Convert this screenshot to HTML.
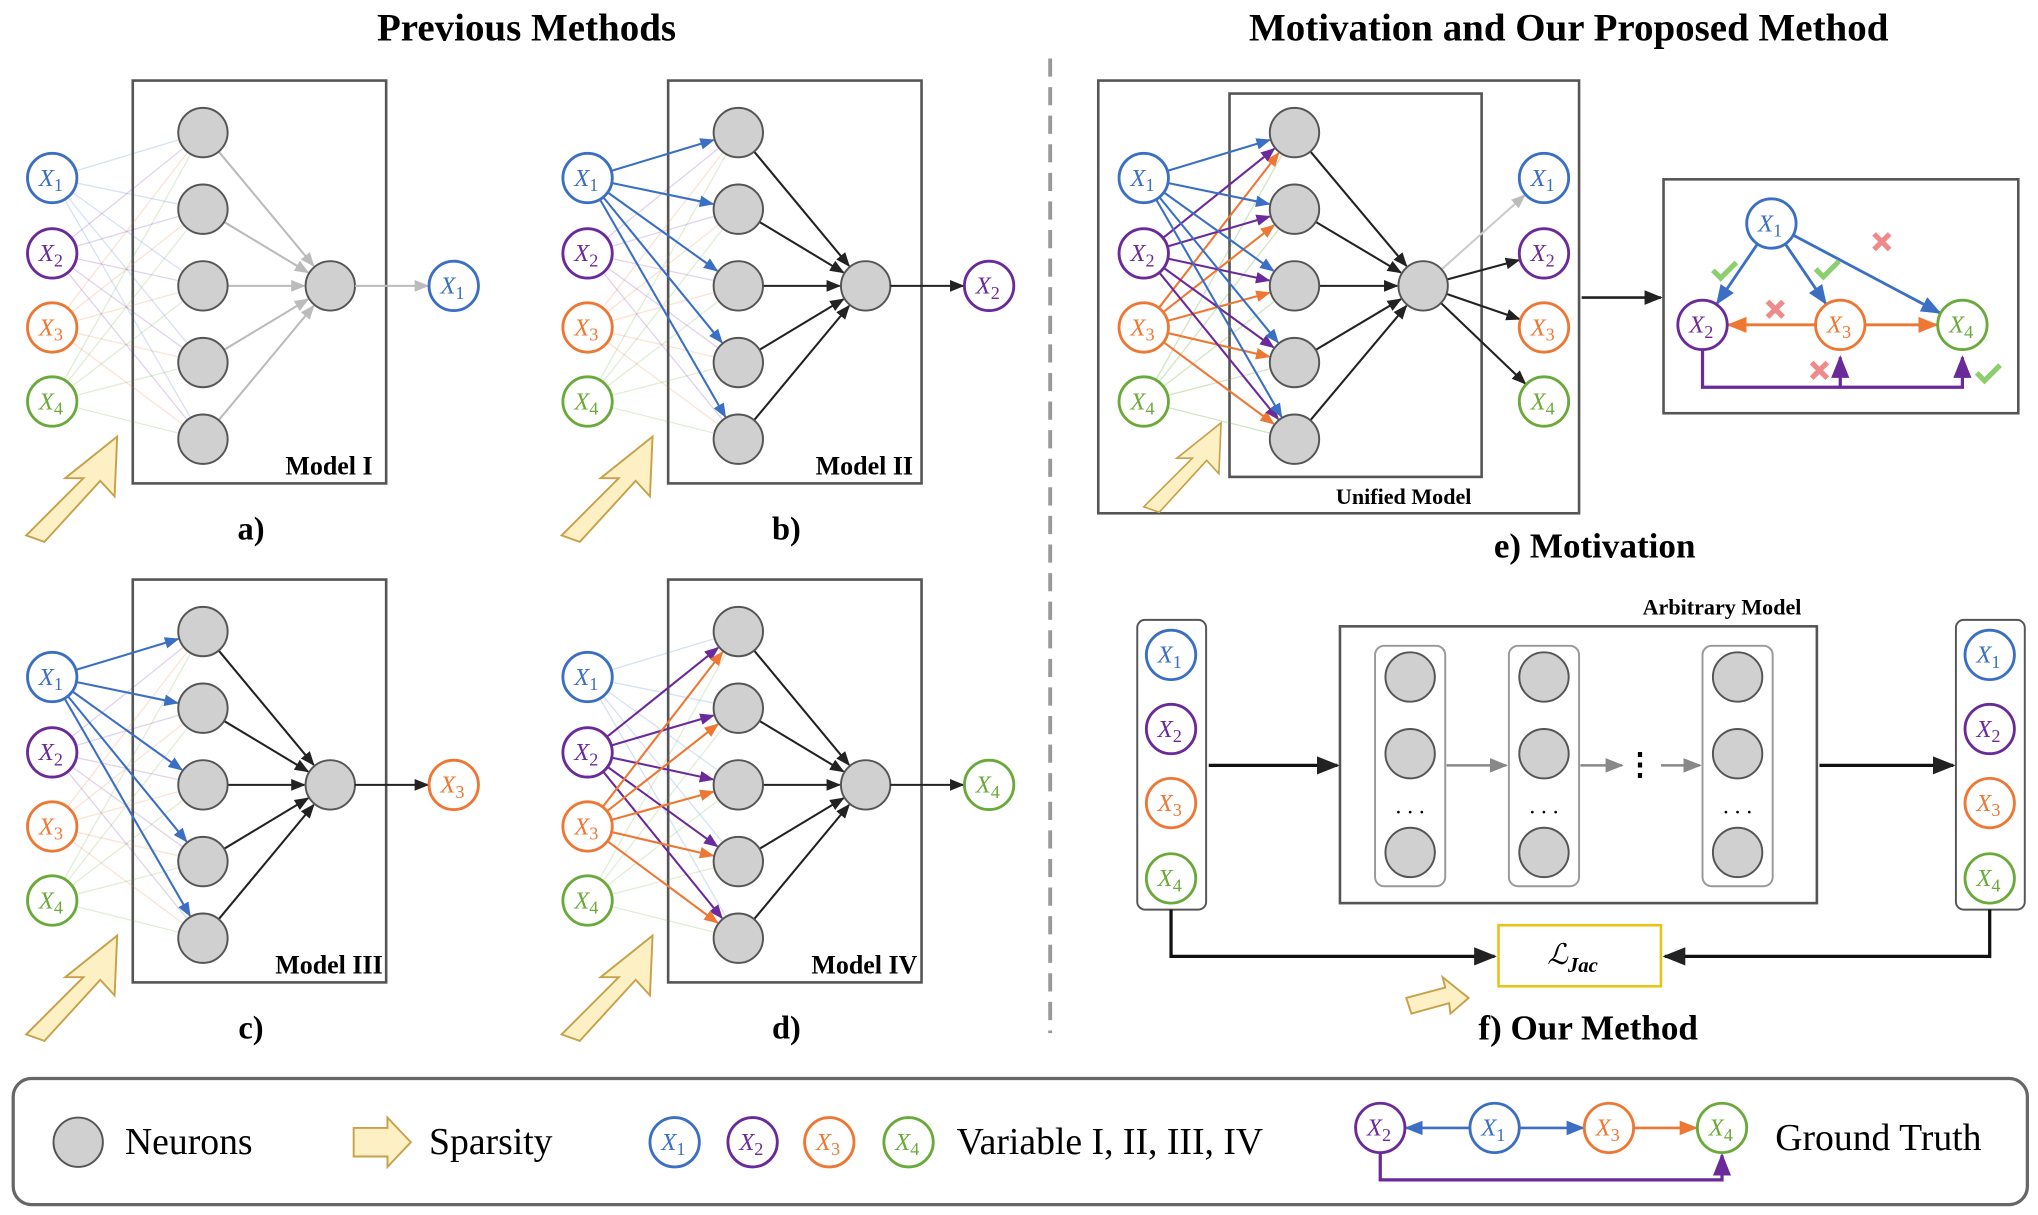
<!DOCTYPE html>
<html><head><meta charset="utf-8">
<style>html,body{margin:0;padding:0;background:#fff}svg{display:block}</style></head>
<body>
<svg id="s" xmlns="http://www.w3.org/2000/svg" width="2038" height="1215" viewBox="0 0 1568 935">
<defs>
<marker id="ab" viewBox="0 0 10 10" refX="9" refY="5" markerWidth="7" markerHeight="7" orient="auto"><path d="M0,1 L10,5 L0,9 z" fill="#3a6fc4"/></marker>
<marker id="ap" viewBox="0 0 10 10" refX="9" refY="5" markerWidth="7" markerHeight="7" orient="auto"><path d="M0,1 L10,5 L0,9 z" fill="#6a2a9a"/></marker>
<marker id="ao" viewBox="0 0 10 10" refX="9" refY="5" markerWidth="7" markerHeight="7" orient="auto"><path d="M0,1 L10,5 L0,9 z" fill="#ee7733"/></marker>
<marker id="ag" viewBox="0 0 10 10" refX="9" refY="5" markerWidth="7" markerHeight="7" orient="auto"><path d="M0,1 L10,5 L0,9 z" fill="#6aaa3a"/></marker>
<marker id="ak" viewBox="0 0 10 10" refX="9" refY="5" markerWidth="7" markerHeight="7" orient="auto"><path d="M0,1 L10,5 L0,9 z" fill="#222"/></marker>
<marker id="ay" viewBox="0 0 10 10" refX="9" refY="5" markerWidth="7" markerHeight="7" orient="auto"><path d="M0,1 L10,5 L0,9 z" fill="#bbb"/></marker>
<marker id="am" viewBox="0 0 10 10" refX="9" refY="5" markerWidth="7" markerHeight="7" orient="auto"><path d="M0,1 L10,5 L0,9 z" fill="#888"/></marker>
</defs>
<g id="g"></g>
</svg>
<script>
var NS="http://www.w3.org/2000/svg",G=document.getElementById('g');
function el(t,a,txt){var e=document.createElementNS(NS,t);for(var k in a)e.setAttribute(k,a[k]);if(txt!=null)e.textContent=txt;G.appendChild(e);return e;}
var C=['#3a6fc4','#6a2a9a','#ee7733','#6aaa3a'],M=['ab','ap','ao','ag'];
function line(x1,y1,x2,y2,c,w,m,op){var a={x1:x1,y1:y1,x2:x2,y2:y2,stroke:c,'stroke-width':w||1.8};if(m)a['marker-end']='url(#'+m+')';if(op)a.opacity=op;return el('line',a);}
function shorten(x1,y1,x2,y2,r1,r2){var dx=x2-x1,dy=y2-y1,d=Math.sqrt(dx*dx+dy*dy);return [x1+dx*r1/d,y1+dy*r1/d,x2-dx*r2/d,y2-dy*r2/d];}
function arr(x1,y1,x2,y2,c,m,w,op){var p=shorten(x1,y1,x2,y2,19,20);line(p[0],p[1],p[2],p[3],c,w||1.8,m,op);}
function xv(x,y,i,r){r=r||19;el('circle',{cx:x,cy:y,r:r,fill:'#fff',stroke:C[i],'stroke-width':2.2});
 var t=el('text',{x:x-1,y:y+6,'text-anchor':'middle','font-family':'Liberation Serif,serif','font-style':'italic','font-size':19,fill:C[i]});
 t.innerHTML='X<tspan font-size="14" dy="4" font-style="normal">'+(i+1)+'</tspan>';}
function neu(x,y){el('circle',{cx:x,cy:y,r:19,fill:'#d0d0d0',stroke:'#555','stroke-width':1.5});}
function txt(x,y,s,sz,anchor,bold,fam){return el('text',{x:x,y:y,'text-anchor':anchor||'middle','font-family':fam||'Liberation Serif,serif','font-weight':bold?'bold':'normal','font-size':sz},s);}
function spars(x,y,s){s=s||1;el('path',{d:'M0,0 L44,-44 L30,-44 L70,-76 L68,-30 L57,-42 L14,5 z',transform:'translate('+x+','+y+') scale('+s+')',fill:'#fdf0c4',stroke:'#c8a24a','stroke-width':1.5});}
function panel(ox,oy,active,outIdx,label,sub,hidColor){
 var ix=40+ox,hx=156+ox,outx=254+ox,iy=[137,195,252,309].map(v=>v+oy),hy=[102,161,220,279,338].map(v=>v+oy),oyy=220+oy;
 el('rect',{x:102+ox,y:62+oy,width:195,height:310,fill:'none',stroke:'#555','stroke-width':2});
 for(var i=0;i<4;i++)for(var j=0;j<5;j++){ if(active.indexOf(i)<0) arr(ix,iy[i],hx,hy[j],C[i],null,1,0.2);}
 for(var i=0;i<4;i++)for(var j=0;j<5;j++){ if(active.indexOf(i)>=0) arr(ix,iy[i],hx,hy[j],C[i],M[i],1.6);}
 var hc=hidColor||'#222',hm=hidColor?'ay':'ak';
 for(var j=0;j<5;j++)arr(hx,hy[j],outx,oyy,hc,hm,1.6);
 for(var i=0;i<4;i++)xv(ix,iy[i],i);
 for(var j=0;j<5;j++)neu(hx,hy[j]);
 neu(outx,oyy);
 arr(outx,oyy,349+ox,oyy,hidColor?'#bbb':'#222',hm,1.6);
 xv(349+ox,oyy,outIdx);
 txt(253+ox,365+oy,label,20,'middle',true);
 txt(193+ox,415+oy,sub,25,'middle',true);
 spars(20+ox,412+oy);
}
txt(405,31,'Previous Methods',30,'middle',true);
txt(1207,31,'Motivation and Our Proposed Method',30,'middle',true);
el('line',{x1:808,y1:45,x2:808,y2:795,stroke:'#999','stroke-width':3,'stroke-dasharray':'14,8'});
panel(0,0,[],0,'Model I','a)','#bbb');
panel(412,0,[0],1,'Model II','b)');
panel(0,384,[0],2,'Model III','c)');
panel(412,384,[1,2],3,'Model IV','d)');
el('rect',{x:845,y:62,width:370,height:333,fill:'none',stroke:'#555','stroke-width':2});
el('rect',{x:946,y:72,width:194,height:295,fill:'none',stroke:'#555','stroke-width':2});
(function(){var ix=880,hx=996,ox=1095,iy=[137,195,252,309],hy=[102,161,220,279,338],oy=220;
 for(var j=0;j<5;j++)arr(ix,iy[3],hx,hy[j],C[3],null,1,0.3);
 [2,1,0].forEach(function(i){for(var j=0;j<5;j++)arr(ix,iy[i],hx,hy[j],C[i],M[i],1.6);});
 for(var j=0;j<5;j++)arr(hx,hy[j],ox,oy,'#222','ak',1.6);
 arr(ox,oy,1188,137,'#ccc','ay',1.6);
 for(var k=1;k<4;k++)arr(ox,oy,1188,iy[k],'#222','ak',1.6);
 for(var i=0;i<4;i++){xv(ix,iy[i],i);xv(1188,iy[i],i);}
 for(var j=0;j<5;j++)neu(hx,hy[j]);neu(ox,oy);
 spars(880,390,0.85);
 txt(1080,388,'Unified Model',17,'middle',true);
 txt(1227,429,'e) Motivation',27,'middle',true);
 line(1217,229,1278,229,'#222',2,'ak');
 el('rect',{x:1280,y:138,width:273,height:180,fill:'none',stroke:'#555','stroke-width':2});
 arr(1363,172,1310,250,C[0],'ab',2.2);arr(1363,172,1416,250,C[0],'ab',2.2);arr(1363,172,1510,250,C[0],'ab',2.2);
 arr(1416,250,1310,250,C[2],'ao',2.2);arr(1416,250,1510,250,C[2],'ao',2.2);
 el('path',{d:'M1310,269 L1310,298 L1510,298 L1510,275',fill:'none',stroke:C[1],'stroke-width':2.5,'marker-end':'url(#ap)'});
 line(1416,298,1416,275,C[1],2.5,'ap');
 xv(1363,172,0);xv(1310,250,1);xv(1416,250,2);xv(1510,250,3);
 function chk(x,y){el('path',{d:'M'+(x-8)+','+y+' l6,6 l12,-12',fill:'none',stroke:'#8ccf6e','stroke-width':4});}
 function crs(x,y){el('path',{d:'M'+(x-6)+','+(y-6)+' l12,12 M'+(x+6)+','+(y-6)+' l-12,12',stroke:'#f08a8a','stroke-width':4});}
 chk(1326,208);chk(1405,207);chk(1529,287);crs(1448,186);crs(1366,238);crs(1400,285);
})();
(function(){
 el('rect',{x:875,y:477,width:53,height:223,rx:6,fill:'none',stroke:'#555','stroke-width':1.5});
 el('rect',{x:1505,y:477,width:53,height:223,rx:6,fill:'none',stroke:'#555','stroke-width':1.5});
 var ys=[504,561,618,676];for(var i=0;i<4;i++){xv(901,ys[i],i);xv(1531,ys[i],i);}
 el('rect',{x:1031,y:482,width:367,height:213,fill:'none',stroke:'#555','stroke-width':2});
 txt(1325,473,'Arbitrary Model',17,'middle',true);
 [1058,1161,1310].forEach(function(x){el('rect',{x:x,y:497,width:54,height:185,rx:7,fill:'none',stroke:'#999','stroke-width':1.5});
  neu(x+27,521);neu(x+27,580);neu(x+27,656);txt(x+27,626,'. . .',18);});
 line(1113,589,1159,589,'#888',2,'am');line(1216,589,1248,589,'#888',2,'am');
 txt(1262,596,'⋮',24,'middle',true);line(1278,589,1308,589,'#888',2,'am');
 line(930,589,1029,589,'#111',2.5,'ak');line(1400,589,1503,589,'#111',2.5,'ak');
 el('rect',{x:1153,y:712,width:125,height:47,fill:'none',stroke:'#e8c31a','stroke-width':2});
 var t=el('text',{x:1210,y:742,'text-anchor':'middle','font-family':'Liberation Serif,serif','font-style':'italic','font-size':22});
 t.innerHTML='ℒ<tspan font-size="16" dy="6" font-weight="bold">Jac</tspan>';
 el('path',{d:'M901,700 L901,736 L1150,736',fill:'none',stroke:'#111','stroke-width':2.5,'marker-end':'url(#ak)'});
 el('path',{d:'M1531,700 L1531,736 L1281,736',fill:'none',stroke:'#111','stroke-width':2.5,'marker-end':'url(#ak)'});
 el('path',{d:'M0,0 L30,-8 L28,-16 L48,0 L34,12 L33,4 L4,12 z',transform:'translate(1082,768)',fill:'#fdf0c4',stroke:'#c8a24a','stroke-width':1.5});
 txt(1222,800,'f) Our Method',27,'middle',true);
})();
el('rect',{x:10,y:830,width:1550,height:97,rx:14,fill:'none',stroke:'#666','stroke-width':2.5});
neu(60,879);txt(96,888,'Neurons',29,'start');
el('path',{d:'M272,868 L298,868 L298,860 L316,879 L298,898 L298,890 L272,890 z',fill:'#fdf0c4',stroke:'#c8a24a','stroke-width':1.5});
txt(330,888,'Sparsity',29,'start');
[519,579,638,699].forEach(function(x,i){xv(x,879,i);});
txt(736,888,'Variable I, II, III, IV',29,'start');
arr(1150,868,1062,868,C[0],'ab',2);arr(1150,868,1238,868,C[0],'ab',2);arr(1238,868,1325,868,C[2],'ao',2);
el('path',{d:'M1062,887 L1062,908 L1325,908 L1325,889',fill:'none',stroke:C[1],'stroke-width':2.5,'marker-end':'url(#ap)'});
xv(1062,868,1);xv(1150,868,0);xv(1238,868,2);xv(1325,868,3);
txt(1366,885,'Ground Truth',29,'start');
</script>
</body></html>
